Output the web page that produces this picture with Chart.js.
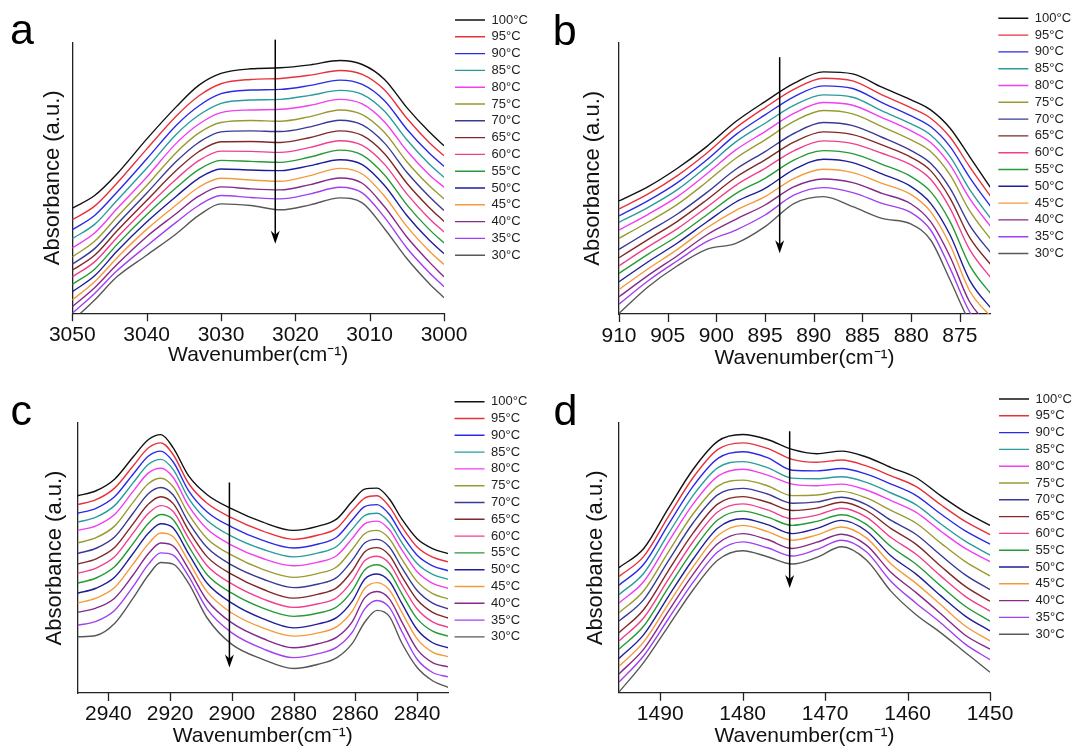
<!DOCTYPE html>
<html lang="en">
<head>
<meta charset="UTF-8">
<title>Temperature-dependent FTIR spectra</title>
<script src="https://cdn.jsdelivr.net/npm/chart.js"></script>
<style>
  body { margin: 0; background: #fff; width: 1072px; height: 751px; overflow: hidden; position: relative; }
  canvas { position: absolute; }
</style>
</head>
<body>
<canvas id="chartA" width="536" height="375" style="left:0;top:0"></canvas>
<canvas id="chartB" width="536" height="375" style="left:536px;top:0"></canvas>
<canvas id="chartC" width="536" height="376" style="left:0;top:375px"></canvas>
<canvas id="chartD" width="536" height="376" style="left:536px;top:375px"></canvas>

<script>
// legend labels, top to bottom
const temps = ['100°C', '95°C', '90°C', '85°C', '80°C', '75°C', '70°C', '65°C', '60°C', '55°C', '50°C', '45°C', '40°C', '35°C', '30°C'];
const colors = ['#111111', '#e8323a', '#2b2be6', '#2a9c9c', '#f03ef0', '#9a9a32', '#3a3a96', '#822828',
                '#f0408c', '#269a36', '#1e1e9a', '#f59a3c', '#842a8a', '#a040f0', '#585858'];

// x tick labels of each panel
const ticksA = [3050, 3040, 3030, 3020, 3010, 3000];
const ticksB = [910, 905, 900, 895, 890, 885, 880, 875];
const ticksC = [2940, 2920, 2900, 2880, 2860, 2840];
const ticksD = [1490, 1480, 1470, 1460, 1450];

// panel a : 3050 - 3000 cm-1  (absorbance, arbitrary units, one row per temperature)
const waveA = [3050, 3047, 3044, 3040, 3036, 3033, 3030, 3026, 3022, 3018, 3014, 3011, 3008, 3005, 3002, 3000];
const absA = [
  [317, 355, 420, 525, 623, 687, 723, 737, 740, 749, 762, 750, 705, 620, 547, 505],
  [282, 323, 392, 495, 595, 655, 692, 705, 708, 718, 732, 720, 673, 588, 515, 475],
  [252, 295, 365, 465, 567, 625, 662, 673, 675, 687, 703, 690, 641, 555, 483, 443],
  [225, 268, 340, 437, 540, 597, 633, 643, 645, 657, 672, 660, 609, 523, 450, 410],
  [197, 242, 315, 410, 513, 570, 605, 613, 615, 627, 645, 631, 577, 490, 418, 380],
  [170, 217, 290, 385, 485, 543, 575, 581, 579, 593, 613, 599, 545, 457, 385, 345],
  [148, 195, 268, 362, 458, 515, 547, 550, 548, 562, 582, 568, 513, 425, 352, 310],
  [130, 175, 248, 340, 431, 487, 517, 518, 515, 530, 550, 536, 481, 392, 319, 277],
  [110, 155, 228, 319, 405, 460, 489, 488, 485, 500, 520, 506, 449, 360, 286, 245],
  [87, 133, 207, 297, 379, 433, 461, 458, 455, 471, 492, 477, 417, 327, 253, 212],
  [65, 113, 187, 275, 353, 407, 435, 432, 430, 445, 463, 448, 385, 295, 221, 180],
  [40, 95, 167, 253, 327, 380, 407, 402, 398, 415, 437, 420, 353, 262, 188, 147],
  [20, 77, 147, 231, 301, 353, 381, 375, 372, 388, 408, 392, 321, 230, 155, 110],
  [0, 60, 128, 203, 275, 325, 355, 349, 345, 360, 380, 363, 289, 197, 123, 80],
  [-23, 40, 110, 175, 240, 295, 330, 325, 312, 327, 348, 333, 255, 165, 90, 47]
];

// panel b : 910 - 872 cm-1
const waveB = [910, 907, 904, 901, 898, 895, 892, 889, 886, 883, 880, 878, 876, 874, 871.5];
const absB = [
  [339, 382, 437, 502, 577, 637, 692, 726, 720, 680, 642, 612, 557, 472, 364],
  [315, 360, 415, 482, 558, 619, 674, 707, 699, 657, 618, 587, 530, 442, 339],
  [294, 340, 394, 462, 538, 597, 652, 684, 676, 634, 594, 562, 502, 410, 309],
  [275, 320, 373, 442, 516, 572, 626, 657, 650, 609, 570, 537, 472, 374, 274],
  [252, 299, 352, 420, 492, 547, 602, 634, 626, 589, 549, 514, 447, 347, 250],
  [227, 276, 329, 396, 467, 522, 578, 610, 600, 562, 522, 487, 417, 310, 212],
  [194, 247, 300, 364, 434, 487, 542, 574, 565, 530, 490, 452, 377, 267, 172],
  [169, 224, 278, 342, 410, 462, 516, 546, 538, 507, 470, 430, 347, 230, 137],
  [145, 202, 256, 320, 386, 437, 490, 519, 511, 482, 447, 404, 317, 194, 97],
  [122, 180, 234, 297, 361, 407, 462, 490, 481, 449, 412, 367, 277, 147, 49],
  [97, 157, 213, 276, 336, 377, 434, 464, 454, 420, 382, 332, 237, 102, 7],
  [74, 136, 194, 258, 311, 352, 407, 434, 424, 392, 358, 307, 207, 70, -18],
  [52, 116, 175, 237, 284, 327, 382, 405, 394, 362, 330, 277, 172, 37, -48],
  [30, 100, 160, 217, 252, 297, 357, 379, 364, 332, 304, 252, 137, 7, -78],
  [2, 82, 145, 194, 212, 262, 332, 352, 322, 287, 270, 222, 102, -23, -118]
];

// panel c : 2950 - 2830 cm-1
const waveC = [2950, 2944, 2938, 2932, 2927, 2923, 2919, 2914, 2908, 2900, 2890, 2880, 2872, 2866, 2861, 2857, 2853, 2849, 2845, 2840, 2835, 2830];
const absC = [
  [597, 612, 647, 714, 767, 782, 742, 657, 600, 557, 517, 492, 505, 527, 580, 617, 620, 587, 527, 467, 437, 422],
  [570, 585, 620, 687, 742, 757, 721, 634, 574, 530, 490, 465, 478, 499, 552, 590, 597, 564, 504, 442, 411, 397],
  [544, 559, 594, 662, 717, 732, 699, 612, 548, 502, 462, 439, 451, 472, 524, 564, 570, 540, 480, 417, 385, 370],
  [517, 532, 567, 636, 692, 707, 676, 589, 522, 474, 435, 412, 424, 444, 496, 537, 544, 516, 456, 392, 359, 344],
  [492, 506, 540, 610, 666, 680, 652, 566, 496, 447, 407, 385, 396, 416, 468, 512, 520, 494, 434, 367, 332, 317],
  [454, 470, 505, 577, 634, 650, 624, 541, 467, 417, 374, 350, 362, 382, 435, 482, 492, 467, 406, 337, 301, 285],
  [422, 438, 472, 544, 604, 622, 599, 516, 440, 387, 345, 319, 330, 350, 402, 454, 465, 442, 380, 310, 272, 255],
  [390, 406, 440, 512, 572, 594, 573, 492, 412, 359, 314, 287, 299, 319, 370, 427, 440, 417, 354, 282, 244, 227],
  [362, 378, 412, 484, 544, 567, 549, 468, 385, 330, 285, 259, 270, 289, 340, 400, 414, 392, 328, 254, 215, 199],
  [332, 348, 382, 452, 514, 540, 524, 444, 358, 302, 257, 232, 242, 261, 310, 372, 388, 366, 301, 225, 187, 172],
  [302, 317, 350, 422, 484, 512, 499, 421, 332, 272, 225, 197, 209, 229, 278, 344, 360, 338, 272, 192, 152, 137],
  [272, 287, 319, 390, 452, 484, 473, 398, 306, 242, 197, 172, 182, 201, 248, 316, 334, 312, 245, 164, 124, 110],
  [244, 257, 287, 357, 422, 454, 445, 375, 280, 212, 165, 137, 149, 169, 216, 288, 307, 285, 216, 132, 92, 79],
  [205, 217, 250, 322, 390, 424, 417, 353, 254, 182, 134, 107, 119, 139, 184, 254, 280, 259, 187, 102, 62, 49],
  [170, 174, 210, 287, 357, 395, 390, 332, 227, 147, 102, 74, 87, 107, 150, 214, 250, 232, 152, 77, 37, 17]
];

// panel d : 1495 - 1450 cm-1
const waveD = [1495, 1492, 1489, 1486, 1483, 1480, 1477, 1474, 1471, 1468, 1465, 1462, 1459, 1456, 1453, 1450];
const absD = [
  [379, 437, 559, 677, 762, 782, 767, 737, 724, 732, 714, 682, 652, 597, 547, 507],
  [352, 413, 534, 652, 737, 757, 740, 707, 698, 705, 687, 657, 625, 570, 519, 479],
  [326, 389, 510, 626, 710, 730, 712, 674, 672, 679, 662, 632, 598, 542, 490, 450],
  [297, 362, 482, 598, 682, 700, 682, 650, 648, 654, 637, 605, 570, 512, 459, 417],
  [272, 337, 457, 572, 656, 677, 659, 632, 627, 632, 614, 582, 547, 490, 437, 397],
  [242, 309, 427, 542, 626, 644, 627, 597, 599, 610, 590, 552, 514, 454, 397, 354],
  [217, 282, 400, 515, 600, 619, 602, 574, 578, 592, 570, 522, 480, 417, 357, 312],
  [182, 252, 370, 484, 572, 594, 577, 552, 559, 577, 552, 497, 450, 384, 322, 277],
  [157, 227, 344, 458, 548, 572, 554, 527, 538, 559, 532, 470, 420, 354, 292, 247],
  [132, 202, 319, 432, 524, 550, 532, 507, 519, 539, 510, 442, 390, 324, 262, 217],
  [104, 176, 292, 405, 499, 527, 509, 482, 498, 522, 490, 414, 360, 294, 232, 187],
  [80, 154, 269, 382, 476, 507, 488, 462, 478, 502, 469, 390, 332, 267, 202, 157],
  [57, 132, 247, 359, 452, 482, 464, 437, 456, 480, 447, 364, 304, 240, 174, 132],
  [32, 112, 224, 335, 427, 457, 439, 414, 434, 462, 427, 337, 272, 212, 147, 100],
  [2, 92, 202, 312, 402, 430, 412, 390, 410, 442, 402, 307, 237, 182, 122, 62]
];

Chart.defaults.font.family = "'Liberation Sans', Arial, sans-serif";
Chart.defaults.color = '#111';

// vertical arrow showing the cooling direction, plus outward x tick marks
const arrowPlugin = {
  id: 'trendArrow',
  afterDatasetsDraw(chart, args, opts) {
    const {ctx, scales: {x, y}} = chart;
    const px = x.getPixelForValue(opts.x);
    const top = y.getPixelForValue(opts.from);
    const tip = y.getPixelForValue(opts.to);
    ctx.save();
    ctx.strokeStyle = '#000';
    ctx.fillStyle = '#000';
    ctx.lineWidth = 1.5;
    ctx.beginPath();
    ctx.moveTo(px, top);
    ctx.lineTo(px, tip - 6);
    ctx.stroke();
    ctx.beginPath();
    ctx.moveTo(px, tip);
    ctx.lineTo(px - 4.5, tip - 13);
    ctx.lineTo(px, tip - 9);
    ctx.lineTo(px + 4.5, tip - 13);
    ctx.closePath();
    ctx.fill();
    ctx.restore();
  },
  afterDraw(chart) {
    const {ctx, scales: {x}} = chart;
    ctx.save();
    ctx.strokeStyle = '#222';
    ctx.lineWidth = 1.3;
    ctx.beginPath();
    x.ticks.forEach(t => {
      const px = Math.round(x.getPixelForValue(t.value)) + 0.5;
      ctx.moveTo(px, x.top);
      ctx.lineTo(px, x.top + 8);
    });
    ctx.stroke();
    ctx.restore();
  }
};

function makePanel(id, wave, abs, tickValues, p) {
  const datasets = abs.map((row, i) => ({
    label: temps[i],
    data: row.map((v, j) => ({x: wave[j], y: v})),
    borderColor: colors[i],
    backgroundColor: colors[i],
    borderWidth: 1.4,
    pointRadius: 0,
    fill: false,
    cubicInterpolationMode: 'monotone',
    xAxisID: 'x',
    yAxisID: 'y'
  }));

  return new Chart(document.getElementById(id), {
    type: 'line',
    data: { datasets: datasets },
    options: {
      responsive: false,
      animation: false,
      events: [],
      layout: { padding: p.pad },
      plugins: {
        legend: {
          position: 'right',
          align: 'start',
          labels: {
            usePointStyle: true,
            pointStyle: 'line',
            pointStyleWidth: 30,
            padding: 3.8,
            color: '#222',
            font: { size: 13 }
          }
        },
        title: {
          display: true,
          text: p.letter,
          align: 'start',
          color: '#000',
          font: { size: 43, weight: 'normal', lineHeight: p.letterLine },
          padding: { top: p.letterTop, bottom: 0 }
        },
        tooltip: { enabled: false },
        trendArrow: p.arrow
      },
      scales: {
        x: {
          type: 'linear',
          reverse: true,
          min: p.xMin,
          max: p.xMax,
          afterBuildTicks(scale) {
            scale.ticks = tickValues.map(v => ({ value: v }));
          },
          ticks: {
            autoSkip: false,
            maxRotation: 0,
            padding: p.tickPad,
            color: '#111',
            format: { useGrouping: false },
            font: { size: 21, lineHeight: 1 }
          },
          // tick marks are drawn by the plugin; the grid only reserves their length
          grid: { display: true, drawOnChartArea: false, drawTicks: true, tickLength: 8, color: 'rgba(0,0,0,0)' },
          border: { display: true, color: '#222', width: 1.3 },
          title: {
            display: true,
            text: 'Wavenumber(cm⁻¹)',
            color: '#111',
            font: { size: 21, lineHeight: 0.5 },
            padding: { top: p.xTitleTop, bottom: 0 }
          }
        },
        y: {
          min: 0,
          max: p.yMax,
          ticks: { display: false },
          grid: { display: false, drawTicks: false },
          border: { display: true, color: '#222', width: 1.3 },
          title: {
            display: true,
            text: 'Absorbance (a.u.)',
            color: '#111',
            font: { size: 22, lineHeight: 1.2 },
            padding: p.yTitlePad
          }
        },
        // empty spacer between plot and legend
        gap: {
          position: 'right',
          ticks: { display: false },
          grid: { display: false, drawTicks: false },
          border: { display: false },
          afterFit(scale) { scale.width = p.gap; }
        }
      }
    },
    plugins: [arrowPlugin]
  });
}

makePanel('chartA', waveA, absA, ticksA, {
  letter: 'a', pad: { left: 10, top: 9.7, right: -1.8, bottom: 14.8 },
  letterLine: 0.46, letterTop: 12.8, yTitlePad: { top: 30.2, bottom: 5.7 },
  tickPad: 3.7, xTitleTop: 0, gap: 7.2,
  xMin: 3000, xMax: 3050, yMax: 817,
  arrow: { x: 3022.7, from: 825, to: 210 }
});

makePanel('chartB', waveB, absB, ticksB, {
  letter: 'b', pad: { left: 16.7, top: 8, right: -9.1, bottom: 12 },
  letterLine: 0.423, letterTop: 16.3, yTitlePad: { top: 27.4, bottom: 12.5 },
  tickPad: 3.6, xTitleTop: 2.2, gap: 4.5,
  xMin: 871.9, xMax: 910, yMax: 814,
  arrow: { x: 893.5, from: 770, to: 182 }
});

makePanel('chartC', waveC, absC, ticksC, {
  letter: 'c', pad: { left: 10.4, top: 16.4, right: -1.3, bottom: 9.6 },
  letterLine: 0.447, letterTop: 12.4, yTitlePad: { top: 31.5, bottom: 9.2 },
  tickPad: 3.2, xTitleTop: 2.5, gap: 2.7,
  xMin: 2830, xMax: 2950, yMax: 817,
  arrow: { x: 2900.8, from: 637, to: 77 }
});

makePanel('chartD', waveD, absD, ticksD, {
  letter: 'd', pad: { left: 17.6, top: 13.7, right: -9.8, bottom: 9.9 },
  letterLine: 0.447, letterTop: 15.1, yTitlePad: { top: 29.1, bottom: 9.9 },
  tickPad: 3.2, xTitleTop: 2.5, gap: 5.2,
  xMin: 1450, xMax: 1495, yMax: 817,
  arrow: { x: 1474.3, from: 792, to: 317 }
});
</script>
</body>
</html>
